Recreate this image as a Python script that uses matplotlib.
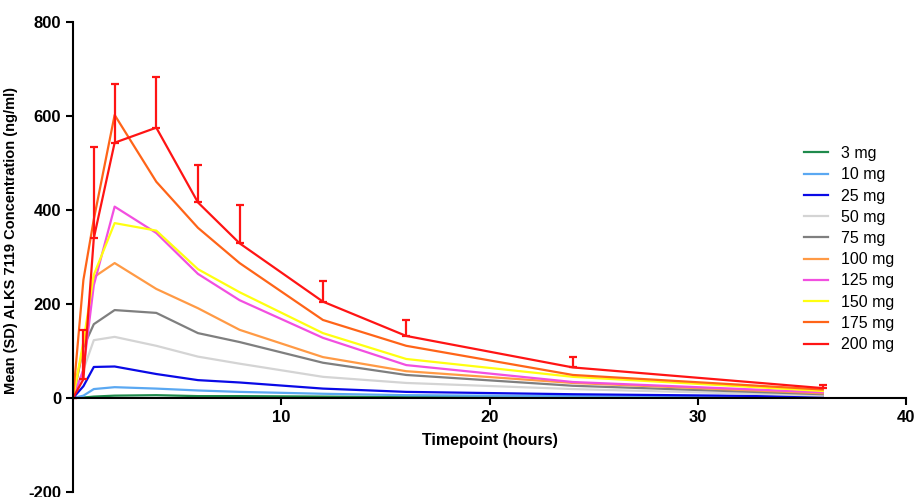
import numpy as np
import matplotlib
matplotlib.use("Agg")
import matplotlib.pyplot as plt

plt.rcParams["font.family"] = ["Liberation Sans", "DejaVu Sans"]
plt.rcParams["axes.unicode_minus"] = False

# timepoints (hours)
t = [0, 0.5, 1, 2, 4, 6, 8, 12, 16, 24, 36]

doses = ["3 mg", "10 mg", "25 mg", "50 mg", "75 mg",
         "100 mg", "125 mg", "150 mg", "175 mg", "200 mg"]
colors = ["#1f8a4c", "#5aa8f2", "#0a0ae6", "#d4d4d4", "#7f7f7f",
          "#ff9a45", "#f24fe0", "#ffff10", "#ff6418", "#ff1414"]

# mean concentration (ng/ml) per dose
c3 = [0, 1, 3, 5, 6, 4, 4, 3, 2, 1, 0.5]
c10 = [0, 5, 19, 23, 20, 16, 13, 9, 6, 4, 1]
c25 = [0, 25, 66, 67, 51, 38, 33, 20, 13, 8, 3]
c50 = [0, 60, 123, 130, 111, 88, 73, 45, 32, 19, 5]
c75 = [0, 108, 157, 187, 181, 138, 119, 75, 49, 26, 8]
c100 = [0, 110, 257, 287, 232, 191, 145, 87, 57, 32, 10]
c125 = [0, 60, 240, 407, 351, 264, 208, 128, 70, 34, 12]
c150 = [0, 120, 262, 372, 356, 274, 225, 138, 83, 45, 15]
c175 = [0, 251, 380, 602, 460, 362, 287, 166, 111, 49, 18]
c200 = [0, 40, 340, 543, 575, 416, 329, 205, 132, 65, 21]
sd200 = [0, 105, 194, 125, 108, 80, 82, 44, 34, 22, 7]

series = [c3, c10, c25, c50, c75, c100, c125, c150, c175, c200]

fig = plt.figure(figsize=(9.18, 4.97), dpi=100)
ax = fig.add_axes([0.0795, 0.010, 0.9075, 0.946])

for vals, lab, col in zip(series, doses, colors):
    ax.plot(t, vals, color=col, lw=1.6, label=lab)

ax.errorbar(t, c200, yerr=[np.zeros(len(sd200)), sd200], fmt="none",
            ecolor=colors[-1], elinewidth=1.6, capsize=3, capthick=1.6)

ax.set_xlim(0, 40)
ax.set_ylim(-200, 800)
ax.set_xticks([10, 20, 30, 40])
ax.set_yticks([-200, 0, 200, 400, 600, 800])

ax.spines["top"].set_visible(False)
ax.spines["right"].set_visible(False)
ax.spines["bottom"].set_position(("data", 0))
ax.spines["left"].set_linewidth(1.5)
ax.spines["bottom"].set_linewidth(1.5)
ax.tick_params(width=1.5, length=5, labelsize=12)
for lbl in ax.get_xticklabels() + ax.get_yticklabels():
    lbl.set_fontweight("bold")

ax.set_xlabel("Timepoint (hours)", fontsize=11.5, fontweight="bold")
ax.xaxis.set_label_coords(0.5, 0.126)
ax.set_ylabel("Mean (SD) ALKS 7119 Concentration (ng/ml)",
              fontsize=10.5, fontweight="bold")
ax.yaxis.set_label_coords(-0.066, 0.536)

ax.legend(loc="upper left", bbox_to_anchor=(0.86, 0.735),
          bbox_transform=fig.transFigure, frameon=False,
          fontsize=11.5, handlelength=1.5, labelspacing=0.39)

fig.savefig("out.png", dpi=100)
